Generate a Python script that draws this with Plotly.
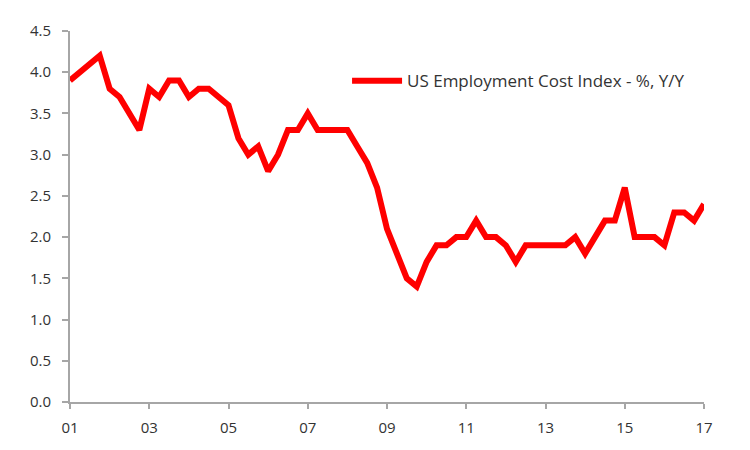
import plotly.graph_objs as go

# quarterly, 2001 Q1 .. 2017 Q1
start_year = 2001
eci_yoy = [
    3.9, 4.0, 4.1, 4.2,
    3.8, 3.7, 3.5, 3.3,
    3.8, 3.7, 3.9, 3.9,
    3.7, 3.8, 3.8, 3.7,
    3.6, 3.2, 3.0, 3.1,
    2.8, 3.0, 3.3, 3.3,
    3.5, 3.3, 3.3, 3.3,
    3.3, 3.1, 2.9, 2.6,
    2.1, 1.8, 1.5, 1.4,
    1.7, 1.9, 1.9, 2.0,
    2.0, 2.2, 2.0, 2.0,
    1.9, 1.7, 1.9, 1.9,
    1.9, 1.9, 1.9, 2.0,
    1.8, 2.0, 2.2, 2.2,
    2.6, 2.0, 2.0, 2.0,
    1.9, 2.3, 2.3, 2.2,
    2.4,
]
tick_years = [2001, 2003, 2005, 2007, 2009, 2011, 2013, 2015, 2017]
tick_labels = ["01", "03", "05", "07", "09", "11", "13", "15", "17"]
y_ticks = [0.0, 0.5, 1.0, 1.5, 2.0, 2.5, 3.0, 3.5, 4.0, 4.5]

x_vals = [start_year + i / 4 for i in range(len(eci_yoy))]

axis_grey = "#a6a6a6"
text_grey = "#333333"

fig = go.Figure()
fig.add_trace(go.Scatter(
    x=x_vals, y=eci_yoy, mode="lines",
    name="US Employment Cost Index - %, Y/Y",
    line=dict(color="#ff0000", width=6),
))

# page body adds an 8px offset, margins are set with that in mind
fig.update_layout(
    width=750, height=450,
    paper_bgcolor="white", plot_bgcolor="white",
    margin=dict(l=62, r=54, t=20, b=56),
    font=dict(family="Open Sans", size=15, color=text_grey),
    showlegend=True,
    legend=dict(
        x=0.437, y=0.865, xanchor="left", yanchor="middle",
        bgcolor="rgba(0,0,0,0)", itemwidth=50,
        font=dict(size=17, color=text_grey),
    ),
)
fig.update_xaxes(
    range=[2001, 2017], tickvals=tick_years, ticktext=tick_labels,
    showgrid=False, zeroline=False,
    showline=True, linecolor=axis_grey, linewidth=2,
    ticks="outside", ticklen=5, tickcolor=axis_grey, tickwidth=2,
    ticklabelstandoff=6,
)
fig.update_yaxes(
    range=[0, 4.5], tickvals=y_ticks, tickformat=".1f",
    showgrid=False, zeroline=False,
    showline=True, linecolor=axis_grey, linewidth=2,
    ticks="outside", ticklen=6, tickcolor=axis_grey, tickwidth=2,
    ticklabelstandoff=8,
)

fig.write_html("out.html")
